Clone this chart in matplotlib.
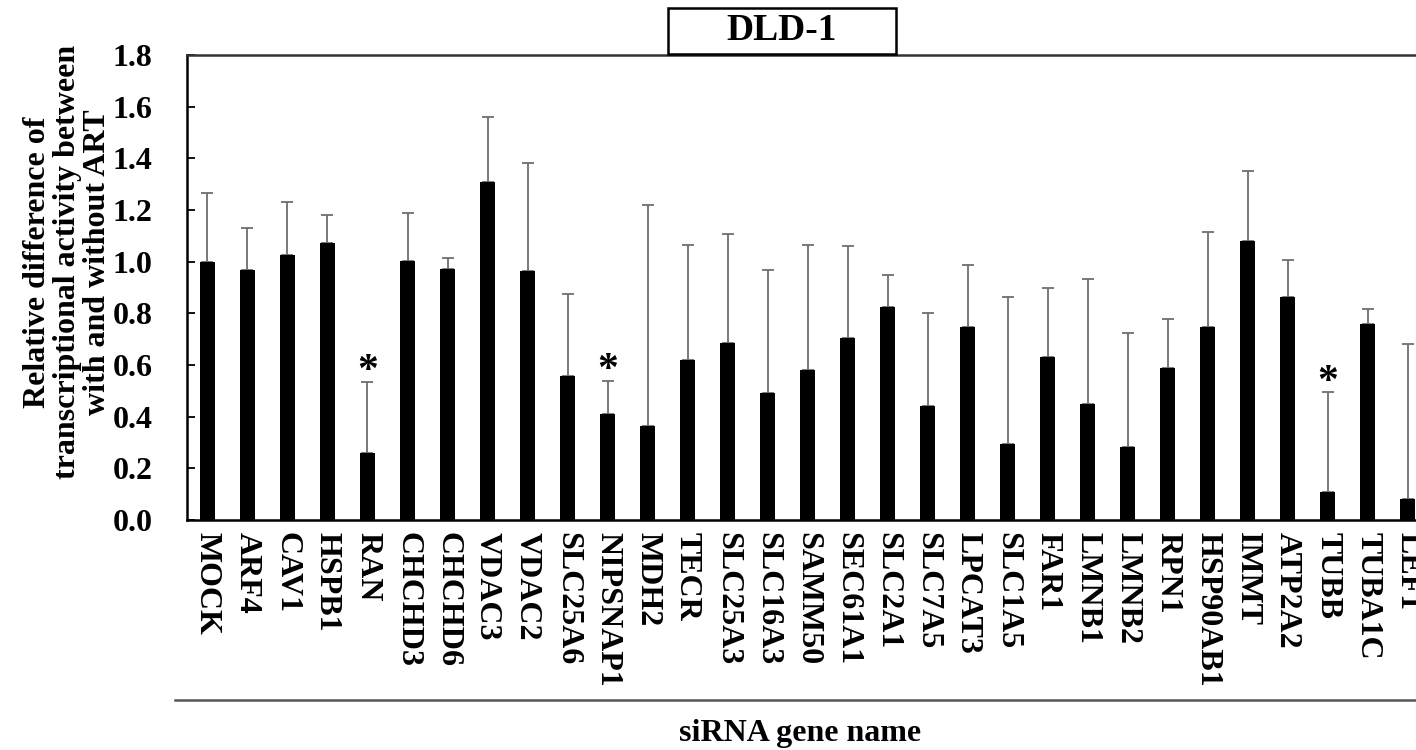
import matplotlib
matplotlib.use("Agg")
import matplotlib.pyplot as plt
import matplotlib.patches as patches
import numpy as np

plt.rcParams['font.family'] = ['Liberation Serif', 'DejaVu Serif']
plt.rcParams['font.weight'] = 'bold'

genes = ["MOCK", "ARF4", "CAV1", "HSPB1", "RAN", "CHCHD3", "CHCHD6", "VDAC3",
         "VDAC2", "SLC25A6", "NIPSNAP1", "MDH2", "TECR", "SLC25A3", "SLC16A3",
         "SAMM50", "SEC61A1", "SLC2A1", "SLC7A5", "LPCAT3", "SLC1A5", "FAR1",
         "LMNB1", "LMNB2", "RPN1", "HSP90AB1", "IMMT", "ATP2A2", "TUBB",
         "TUBA1C", "LEF1"]
means = [1.00, 0.968, 1.026, 1.074, 0.258, 1.004, 0.970, 1.308,
         0.965, 0.559, 0.409, 0.363, 0.618, 0.686, 0.493,
         0.581, 0.706, 0.823, 0.440, 0.747, 0.295, 0.630,
         0.450, 0.281, 0.590, 0.748, 1.080, 0.865, 0.110,
         0.757, 0.080]
# upper end of each error bar
upper = [1.265, 1.132, 1.230, 1.181, 0.535, 1.187, 1.015, 1.560,
         1.382, 0.874, 0.539, 1.219, 1.066, 1.107, 0.968,
         1.063, 1.061, 0.950, 0.801, 0.987, 0.863, 0.897,
         0.933, 0.723, 0.778, 1.115, 1.351, 1.006, 0.495,
         0.815, 0.680]
significant = ["RAN", "NIPSNAP1", "TUBB"]

means = np.array(means)
err = np.array(upper) - means
x = np.arange(len(genes))

fig = plt.figure(figsize=(14.16, 7.5), dpi=100)
ax = fig.add_axes([0.1324, 0.3067, 0.8676, 0.62])

ax.bar(x, means, width=0.37, color='black', zorder=2)
ax.errorbar(x, means, yerr=[np.zeros_like(err), err], fmt='none',
            ecolor='#6e6e6e', elinewidth=1.3, capsize=4.3, capthick=1.3, zorder=1)

for g in significant:
    i = genes.index(g)
    ax.annotate('*', (i, upper[i]), xytext=(0, -7), textcoords='offset points',
                ha='center', va='bottom', fontsize=30, fontweight='bold')

ax.set_xlim(-0.5, 30.21)
ax.set_ylim(0, 1.8)
ax.set_yticks(np.arange(0, 1.81, 0.2))
ax.set_yticklabels(["%.1f" % v for v in np.arange(0, 1.81, 0.2)], fontsize=23)
ax.set_xticks(x)
ax.set_xticklabels(genes, rotation=270, fontsize=23, va='top', ha='center')
ax.tick_params(axis='y', direction='in', length=6, width=1.3, pad=25)
ax.tick_params(axis='x', length=0, pad=9)

for s in ['left', 'bottom']:
    ax.spines[s].set_linewidth(1.8)
ax.spines['top'].set_linewidth(1.8)
ax.spines['top'].set_color('#333333')
ax.spines['right'].set_visible(False)

fig.text(0.0475, 0.651, "Relative difference of\ntranscriptional activity between\nwith and without ART",
         rotation=90, ha='center', va='center', fontsize=23, fontweight='bold',
         linespacing=1.05, multialignment='center')

# boxed panel title sitting on the top frame
fig.patches.append(patches.Rectangle((668 / 1416, 1 - 54 / 750), 228 / 1416, 46 / 750,
                                     transform=fig.transFigure, fill=True,
                                     facecolor='white', edgecolor='black', linewidth=1.8))
fig.text(782 / 1416, 1 - 31 / 750, "DLD-1", ha='center', va='center',
         fontsize=27, fontweight='bold')

fig.add_artist(plt.Line2D([175 / 1416, 1.0], [1 - 700 / 750, 1 - 700 / 750],
                          transform=fig.transFigure, color='#555555', linewidth=1.8))
fig.text(800 / 1416, 1 - 733 / 750, "siRNA gene name", ha='center', va='center',
         fontsize=23, fontweight='bold')

plt.savefig("out.png", dpi=100)
